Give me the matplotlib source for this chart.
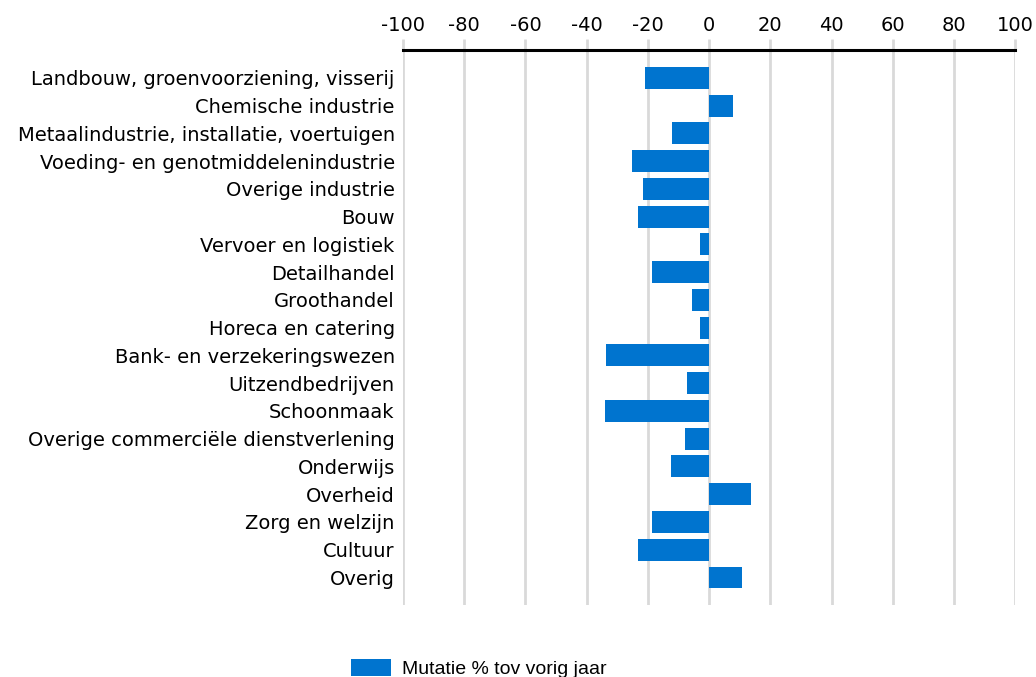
import matplotlib.pyplot as plt
from matplotlib.patches import Patch

plt.rcParams['axes.unicode_minus'] = False

categories = [
    "Landbouw, groenvoorziening, visserij",
    "Chemische industrie",
    "Metaalindustrie, installatie, voertuigen",
    "Voeding- en genotmiddelenindustrie",
    "Overige industrie",
    "Bouw",
    "Vervoer en logistiek",
    "Detailhandel",
    "Groothandel",
    "Horeca en catering",
    "Bank- en verzekeringswezen",
    "Uitzendbedrijven",
    "Schoonmaak",
    "Overige commerciële dienstverlening",
    "Onderwijs",
    "Overheid",
    "Zorg en welzijn",
    "Cultuur",
    "Overig",
]
mutatie = [-20.9, 7.7, -12.2, -25.2, -21.5, -23.2, -3.0, -18.8, -5.7, -3.0,
           -33.6, -7.1, -34.0, -7.9, -12.5, 13.6, -18.8, -23.2, 10.7]
xticks = [-100, -80, -60, -40, -20, 0, 20, 40, 60, 80, 100]

blue = '#0074cf'

fig = plt.figure(figsize=(10.36, 6.77), dpi=100)
ax = fig.add_axes([0.389, 0.106, 0.591, 0.820])

ypos = list(range(len(categories)))
ax.barh(ypos, mutatie, height=0.79, color=blue, zorder=3)

ax.set_xlim(-100, 100)
ax.set_ylim(len(categories), -1)
ax.set_yticks(ypos)
ax.set_yticklabels(categories, fontsize=14, family='DejaVu Sans')
ax.tick_params(axis='y', length=0, pad=6)

ax.set_xticks(xticks)
ax.set_xticklabels([str(t) for t in xticks])
ax.xaxis.tick_top()
ax.tick_params(axis='x', which='both', direction='out', length=8, width=2,
               color='#d9d9d9', labelsize=14, pad=3)
for lab in ax.get_xticklabels():
    lab.set_family('DejaVu Sans')
ax.grid(axis='x', color='#d9d9d9', linewidth=2, zorder=0)

for s in ['left', 'right', 'bottom']:
    ax.spines[s].set_visible(False)
ax.spines['top'].set_linewidth(2.2)
ax.spines['top'].set_color('black')
ax.spines['top'].set_zorder(5)

fig.legend(handles=[Patch(facecolor=blue, label='Mutatie % tov vorig jaar')],
           loc='lower left', bbox_to_anchor=(0.322, -0.028), frameon=False,
           prop={'family': 'Liberation Sans', 'size': 14},
           handlelength=2.05, handleheight=1.0, handletextpad=0.55)

fig.savefig('out.png', dpi=100)
